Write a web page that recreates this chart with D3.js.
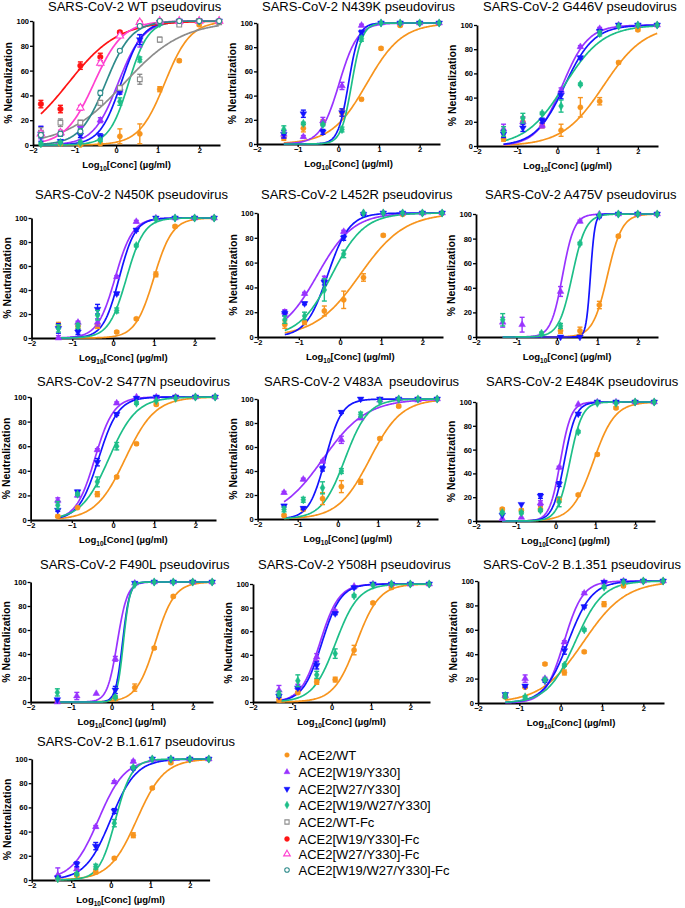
<!DOCTYPE html>
<html>
<head>
<meta charset="utf-8">
<script src="https://cdn.jsdelivr.net/npm/d3@7"></script>
<style>
body { margin: 0; background: #fff; }
text { font-family: "Liberation Sans", Arial, sans-serif; }
</style>
</head>
<body>
<script>
// log10 of the concentrations (3-fold dilutions from 300 ug/ml)
const doses = [-1.81, -1.34, -0.86, -0.38, 0.09, 0.57, 1.05, 1.52, 2.00, 2.48];

const seriesNames = ["ACE2/WT", "ACE2[W19/Y330]", "ACE2[W27/Y330]", "ACE2[W19/W27/Y330]",
    "ACE2/WT-Fc", "ACE2[W19/Y330]-Fc", "ACE2[W27/Y330]-Fc", "ACE2[W19/W27/Y330]-Fc"];

const panelTitles = ["SARS-CoV-2 WT pseudovirus", "SARS-CoV-2 N439K pseudovirus", "SARS-CoV-2 G446V pseudovirus",
    "SARS-CoV-2 N450K pseudovirus", "SARS-CoV-2 L452R pseudovirus", "SARS-CoV-2 A475V pseudovirus",
    "SARS-CoV-2 S477N pseudovirus", "SARS-CoV-2 V483A  pseudovirus", "SARS-CoV-2 E484K pseudovirus",
    "SARS-CoV-2 F490L pseudovirus", "SARS-CoV-2 Y508H pseudovirus", "SARS-CoV-2 B.1.351 pseudovirus",
    "SARS-CoV-2 B.1.617 pseudovirus"];

const yTicks = [0, 20, 40, 60, 80, 100];
const xTicks = [-2, -1, 0, 1, 2];

// each panel: pts = % neutralization per series per dose, sem = error bars,
// fit = [logIC50, hill slope] of the fitted curve
const WT = {
    pts: [[null, 1, 0, 1, 7, 9, 45, 68, 97, 99],
          [10, 9, 16, 20, 44, 84, 99, 99, 100, 100],
          [9, 3, 8, 7, 43, 85, 99, 100, 100, 100],
          [1, 2, 2, 4, 35, 69, 98, 99, 100, 100],
          [10, 18, 18, 34, 46, 53, 85, 97, 100, 99],
          [33, 29, 64, 71, 91, 99, 100, 100, 100, 100],
          [9, 10, 30, 66, 88, 99, 100, 100, 100, 100],
          [8, 9, 11, 42, 76, 96, 100, 100, 100, 100]],
    sem: [[0, 0, 0, 0, 6, 8, 2, 1, 1, 0],
          [5, 1, 2, 2, 2, 5, 1, 0, 0, 0],
          [6, 1, 2, 2, 2, 4, 0, 0, 0, 0],
          [1, 1, 1, 1, 3, 2, 0, 0, 0, 0],
          [4, 3, 2, 2, 2, 4, 2, 1, 0, 0],
          [3, 3, 3, 3, 1, 0, 0, 0, 0, 0],
          [2, 2, 2, 2, 1, 0, 0, 0, 0, 0],
          [2, 2, 2, 2, 1, 1, 0, 0, 0, 0]],
    fit: [[1.17, 1.4], [0.05, 1.45], [0.12, 1.7], [0.3, 1.85], [0.2, 0.62], [-1.15, 0.72], [-0.53, 1.25], [-0.25, 1.4]]
};
const N439K = {
    pts: [[null, 5, 13, 18, 26, 37, 79, 98, 100, 100],
          [null, 8, 6, 19, 48, 98, 100, 100, 100, 100],
          [null, 8, 25, 10, 26, 92, 100, 100, 100, 100],
          [null, 12, 17, 16, 12, 87, 100, 100, 100, 100]],
    sem: [[0, 2, 3, 2, 3, 1, 1, 1, 0, 0], [0, 3, 1, 3, 3, 1, 0, 0, 0, 0],
          [0, 3, 3, 2, 3, 2, 0, 0, 0, 0], [0, 3, 1, 1, 2, 2, 0, 0, 0, 0]],
    fit: [[0.7, 1.0], [0.02, 1.9], [0.25, 3.4], [0.33, 3.3]]
};
const G446V = {
    pts: [[null, 6, 20, 17, 13, 32, 37, 69, 96, 100],
          [null, 14, 20, 17, 46, 82, 97, 100, 100, 100],
          [null, 10, 15, 21, 42, 73, 95, 100, 100, 100],
          [null, 12, 23, 27, 33, 51, 93, 99, 100, 100]],
    sem: [[0, 2, 4, 2, 5, 8, 3, 1, 1, 0], [0, 4, 4, 2, 2, 1, 1, 0, 0, 0],
          [0, 3, 3, 2, 3, 1, 1, 0, 0, 0], [0, 4, 4, 1, 5, 1, 2, 0, 0, 0]],
    fit: [[1.15, 0.85], [0.12, 1.35], [0.18, 1.2], [0.17, 0.9]]
};
const N450K = {
    pts: [[null, 11, 10, 10, 5, 16, 53, 93, 100, 100],
          [null, 0, 13, 13, 51, 97, 100, 100, 100, 100],
          [null, 8, 5, 24, 37, 90, 100, 100, 100, 100],
          [null, 8, 10, 19, 23, 77, 99, 100, 100, 100]],
    sem: [[0, 2, 2, 2, 1, 1, 2, 1, 0, 0], [0, 2, 1, 3, 1, 1, 0, 0, 0, 0],
          [0, 4, 2, 4, 1, 1, 0, 0, 0, 0], [0, 3, 2, 4, 2, 1, 0, 0, 0, 0]],
    fit: [[1.0, 1.9], [0.05, 2.0], [0.15, 2.2], [0.33, 2.0]]
};
const L452R = {
    pts: [[null, 10, 12, 21, 30, 48, 82, 99, 100, 100],
          [null, 20, 35, 47, 85, 100, 100, 100, 100, 100],
          [null, 19, 27, 44, 80, 99, 100, 100, 100, 100],
          [null, 14, 17, 38, 67, 100, 100, 100, 100, 100]],
    sem: [[0, 3, 2, 4, 7, 3, 1, 1, 0, 0], [0, 2, 1, 2, 1, 0, 0, 0, 0, 0],
          [0, 2, 1, 2, 2, 1, 0, 0, 0, 0], [0, 3, 3, 9, 3, 0, 0, 0, 0, 0]],
    fit: [[0.48, 0.8], [-0.55, 1.0], [-0.3, 1.65], [-0.2, 1.1]]
};
const A475V = {
    pts: [[null, null, null, null, 5, 5, 26, 82, 100, 100],
          [null, 12, 10, null, 37, 94, 100, 100, 100, 100],
          [null, null, null, null, 0, 0, 98, 100, 100, 100],
          [null, 14, null, 3, 9, 76, 99, 100, 100, 100]],
    sem: [[0, 0, 0, 0, 2, 3, 3, 1, 0, 0], [0, 4, 6, 0, 4, 1, 0, 0, 0, 0],
          [0, 0, 0, 0, 0, 0, 1, 0, 0, 0], [0, 5, 0, 1, 2, 1, 0, 0, 0, 0]],
    fit: [[1.25, 2.4], [0.14, 3.0], [0.83, 8], [0.38, 2.6]]
};
const S477N = {
    pts: [[null, 3, 10, 21, 35, 62, 94, 100, 100, 100],
          [null, 16, 20, 57, 95, 100, 100, 100, 100, 100],
          [null, 8, 23, 47, 86, 99, 100, 100, 100, 100],
          [null, 12, 21, 31, 60, 95, 97, 99, 100, 100]],
    sem: [[0, 1, 0, 2, 1, 1, 1, 0, 0, 0], [0, 2, 1, 1, 1, 0, 0, 0, 0, 0],
          [0, 1, 1, 3, 1, 1, 0, 0, 0, 0], [0, 3, 1, 4, 3, 1, 0, 0, 0, 0]],
    fit: [[0.3, 1.2], [-0.44, 1.9], [-0.35, 1.8], [-0.1, 1.3]]
};
const V483A = {
    pts: [[null, 3, 8, 17, 27, 31, 67, 94, 100, 100],
          [null, 22, 33, 48, 66, 84, 99, 100, 99, 100],
          [null, 11, 9, 42, 89, 100, 100, 100, 100, 100],
          [null, 8, 16, 26, 40, 87, 98, 100, 100, 100]],
    sem: [[0, 1, 1, 5, 5, 2, 1, 1, 0, 0], [0, 1, 1, 1, 3, 1, 0, 0, 0, 0],
          [0, 1, 1, 2, 1, 0, 0, 0, 0, 0], [0, 2, 2, 5, 2, 2, 0, 0, 0, 0]],
    fit: [[0.8, 1.1], [-0.37, 0.8], [-0.31, 2.1], [0.18, 1.5]]
};
const E484K = {
    pts: [[null, 10, 9, 10, 18, 22, 56, 95, 100, 100],
          [null, 2, 3, 15, 45, 98, 100, 100, 100, 100],
          [null, 5, 14, 21, 31, 90, 100, 100, 100, 100],
          [null, 7, 7, 9, 16, 75, 99, 99, 100, 100]],
    sem: [[0, 1, 1, 2, 2, 1, 1, 1, 0, 0], [0, 0, 0, 2, 1, 0, 0, 0, 0, 0],
          [0, 0, 0, 2, 2, 1, 0, 0, 0, 0], [0, 1, 1, 1, 4, 1, 0, 0, 0, 0]],
    fit: [[0.95, 1.6], [0.12, 3.2], [0.22, 3.0], [0.36, 2.8]]
};
const F490L = {
    pts: [[null, 1, null, null, 3, 12, 45, 88, 100, 100],
          [null, 0, 5, 7, 36, 99, 100, 100, 100, 100],
          [null, 2, null, null, 10, 99, 100, 100, 100, 100],
          [null, 8, null, null, 4, 98, 100, 100, 100, 100]],
    sem: [[0, 0, 0, 0, 2, 3, 1, 1, 0, 0], [0, 2, 3, 0, 2, 0, 0, 0, 0, 0],
          [0, 0, 0, 0, 3, 0, 0, 0, 0, 0], [0, 3, 0, 0, 1, 0, 0, 0, 0, 0]],
    fit: [[1.08, 1.85], [0.14, 3.5], [0.27, 5], [0.29, 5.5]]
};
const Y508H = {
    pts: [[null, 2, 8, 17, 19, 44, 84, 97, 100, 100],
          [null, 10, 13, 38, 77, 98, 100, 100, 100, 100],
          [null, 5, 12, 31, 75, 97, 100, 100, 100, 100],
          [null, 7, 18, 23, 41, 90, 99, 100, 100, 100]],
    sem: [[0, 2, 1, 2, 2, 4, 1, 1, 0, 0], [0, 4, 2, 3, 1, 0, 0, 0, 0, 0],
          [0, 1, 1, 3, 1, 1, 0, 0, 0, 0], [0, 2, 5, 3, 4, 1, 0, 0, 0, 0]],
    fit: [[0.63, 1.5], [-0.3, 1.8], [-0.25, 1.8], [0.1, 1.5]]
};
const B1351 = {
    pts: [[null, 5, 13, 32, 25, 42, 81, 96, 100, 100],
          [null, 6, 20, 20, 50, 90, 99, 100, 100, 100],
          [null, 7, 14, 18, 43, 79, 99, 100, 100, 100],
          [null, 6, 5, 19, 31, 60, 95, 99, 100, 100]],
    sem: [[0, 1, 1, 1, 2, 1, 2, 1, 0, 0], [0, 1, 3, 1, 1, 1, 1, 0, 0, 0],
          [0, 1, 1, 1, 3, 1, 0, 0, 0, 0], [0, 2, 1, 1, 1, 1, 1, 0, 0, 0]],
    fit: [[0.55, 0.85], [0.08, 1.9], [0.18, 1.5], [0.35, 1.3]]
};
const B1617 = {
    pts: [[null, 1, 4, 7, 18, 37, 76, 97, 100, 100],
          [null, 4, 9, 44, 81, 98, 100, 100, 100, 100],
          [null, 2, 13, 28, 57, 92, 100, 100, 100, 100],
          [null, 1, 5, 11, 47, 93, 100, 100, 100, 100]],
    sem: [[0, 0, 1, 2, 1, 2, 1, 1, 0, 0], [0, 6, 1, 1, 1, 1, 0, 0, 0, 0],
          [0, 0, 2, 3, 2, 1, 0, 0, 0, 0], [0, 0, 1, 2, 3, 1, 0, 0, 0, 0]],
    fit: [[0.66, 1.25], [-0.31, 1.3], [0.0, 1.35], [0.12, 2.1]]
};

const panels = [WT, N439K, G446V, N450K, L452R, A475V, S477N, V483A, E484K, F490L, Y508H, B1351, B1617];

// plot box of each panel: [left, right, top, bottom, title x, title baseline]
const layout = [
    [33, 220, 21, 145, 48, 11], [257, 440, 23, 144, 262, 11], [477, 658, 25, 146, 483, 11],
    [31.5, 215, 218, 338, 35, 199], [257.6, 443, 213, 337, 261, 199], [476, 658, 214, 337, 485, 199],
    [30.6, 216, 397, 520, 37, 386], [257.6, 438, 399, 519, 264, 386], [476, 655, 402, 521, 486, 386],
    [30.6, 213, 582, 702, 40, 569], [253, 430, 584, 702, 258, 569], [478, 664, 581, 703, 483, 569],
    [31.7, 209.6, 759, 880, 37, 746]
];

const styles = [
    { color: "#F7941D", shape: d3.symbolCircle, size: 21, fill: true, rot: 0 },
    { color: "#9933FF", shape: d3.symbolTriangle, size: 19, fill: true, rot: 0 },
    { color: "#1414FF", shape: d3.symbolTriangle, size: 19, fill: true, rot: 180 },
    { color: "#1DBE88", shape: d3.symbolDiamond, size: 20, fill: true, rot: 0 },
    { color: "#8C8C8C", shape: d3.symbolSquare, size: 22, fill: false, rot: 0 },
    { color: "#FF1414", shape: d3.symbolCircle, size: 24, fill: true, rot: 0 },
    { color: "#FF40D0", shape: d3.symbolTriangle, size: 24, fill: false, rot: 0 },
    { color: "#2E8B8B", shape: d3.symbolCircle, size: 20, fill: false, rot: 0 }
];

const legendY = [755, 772, 789, 805, 822, 839, 854, 870];

// four-parameter logistic with bottom 0 and top 100
function hill(fit, v) {
    return 100 / (1 + Math.pow(10, fit[1] * (fit[0] - v)));
}

var svg = d3.select("body").append("svg")
    .attr("width", 685)
    .attr("height", 908);

function marker(sel, st, scale) {
    sel.attr("d", d3.symbol().type(st.shape).size(st.size * (scale || 1)))
        .attr("fill", st.fill ? st.color : "#fff")
        .attr("stroke", st.color)
        .attr("stroke-width", st.fill ? 0.5 : 1.1);
}

panels.forEach((p, i) => {
    const [L, R, T, B, tx, ty] = layout[i];
    const x = d3.scaleLinear().domain([-2, 2.5]).range([L, R]);
    const y = d3.scaleLinear().domain([0, 100]).range([B, T]);
    const g = svg.append("g");

    g.append("text")
        .attr("x", tx).attr("y", ty)
        .attr("font-size", 13)
        .attr("xml:space", "preserve")
        .text(panelTitles[i]);

    // Axes
    const ya = g.append("g").attr("transform", `translate(${L},0)`)
        .call(d3.axisLeft(y).tickValues(yTicks).tickSize(3).tickSizeOuter(0).tickPadding(1));
    const xa = g.append("g").attr("transform", `translate(0,${B})`)
        .call(d3.axisBottom(x).tickValues(xTicks).tickSize(3).tickSizeOuter(0).tickFormat(d3.format("d")));
    [ya, xa].forEach(a => {
        a.select(".domain").attr("stroke-width", 1.8);
        a.selectAll(".tick line").attr("stroke-width", 1.3);
        a.selectAll("text").attr("font-size", 7.5).attr("font-weight", "bold")
            .attr("font-family", "'Liberation Sans', Arial, sans-serif");
    });
    xa.selectAll("text").attr("y", 8).attr("dy", 0);

    g.append("text")
        .attr("transform", `translate(${L - 21},${(T + B) / 2}) rotate(-90)`)
        .attr("text-anchor", "middle")
        .attr("font-size", 10.5).attr("font-weight", "bold")
        .text("% Neutralization");

    const xt = g.append("text")
        .attr("x", x(0.25)).attr("y", B + 23)
        .attr("text-anchor", "middle")
        .attr("font-size", 9.5).attr("font-weight", "bold");
    xt.append("tspan").text("Log");
    xt.append("tspan").attr("font-size", 6.5).attr("dy", 2.5).text("10");
    xt.append("tspan").attr("dy", -2.5).text("[Conc] (\u00b5g/ml)");

    // first dose that carries data in this panel
    const start = d3.min(p.pts, s => s.findIndex(v => v !== null));
    const grid = d3.range(doses[start], 2.481, 0.02);

    const line = d3.line().x(d => x(d[0])).y(d => y(d[1]));

    // Fitted curves
    p.fit.forEach((f, s) => {
        g.append("path")
            .datum(grid.map(v => [v, hill(f, v)]))
            .attr("fill", "none")
            .attr("stroke", styles[s].color)
            .attr("stroke-width", 1.7)
            .attr("d", line);
    });

    // Points with error bars
    p.pts.forEach((vals, s) => {
        const st = styles[s];
        const pts = vals.map((v, k) => ({ x: doses[k], y: v, e: p.sem[s][k] }))
            .filter(d => d.y !== null);
        const eb = g.append("g").attr("stroke", st.color).attr("stroke-width", 1.4);
        pts.filter(d => d.e > 0).forEach(d => {
            const cx = x(d.x);
            const y1 = y(Math.max(0, d.y - d.e)), y2 = y(Math.min(100, d.y + d.e));
            eb.append("line").attr("x1", cx).attr("x2", cx).attr("y1", y1).attr("y2", y2);
            eb.append("line").attr("x1", cx - 2.5).attr("x2", cx + 2.5).attr("y1", y1).attr("y2", y1);
            eb.append("line").attr("x1", cx - 2.5).attr("x2", cx + 2.5).attr("y1", y2).attr("y2", y2);
        });
        g.append("g").selectAll("path")
            .data(pts)
            .join("path")
            .attr("transform", d => `translate(${x(d.x)},${y(d.y)}) rotate(${st.rot})`)
            .call(marker, st);
    });
});

// Legend
const lg = svg.append("g");
seriesNames.forEach((name, s) => {
    lg.append("path")
        .attr("transform", `translate(287,${legendY[s]}) rotate(${styles[s].rot})`)
        .call(marker, styles[s], 0.8);
    lg.append("text")
        .attr("x", 298.5).attr("y", legendY[s] + 4.7)
        .attr("font-size", 13)
        .text(name);
});
</script>
</body>
</html>
